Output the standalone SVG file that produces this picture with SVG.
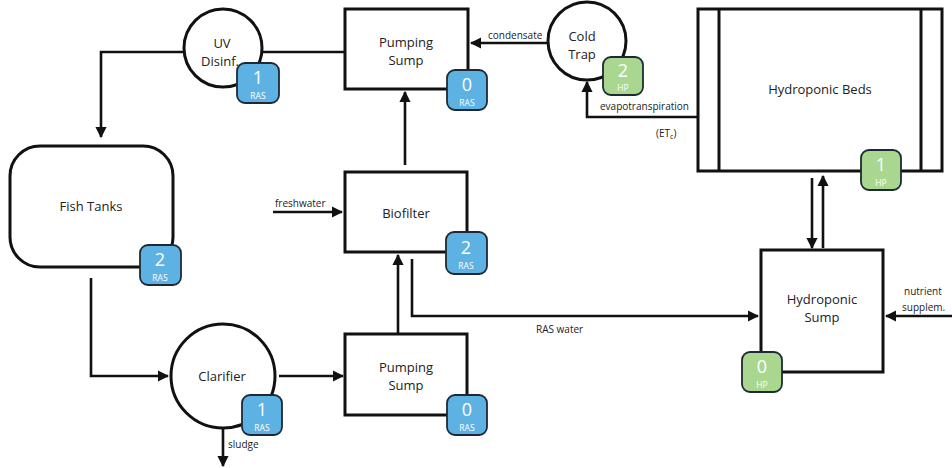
<svg xmlns="http://www.w3.org/2000/svg" width="952" height="468" viewBox="0 0 952 468">
<style>
.box{fill:#fff;stroke:#111;stroke-width:3}
.ln{fill:none;stroke:#111;stroke-width:2.6}
.lbl{font-family:"Open Sans","Noto Sans",sans-serif;font-size:13px;fill:#222;text-anchor:middle}
.sm{font-family:"Open Sans","Noto Sans",sans-serif;font-size:10px;fill:#222}
.ras{fill:#5db2e3;stroke:#1e2a33;stroke-width:1.8}
.hp{fill:#a9d78f;stroke:#1e2a33;stroke-width:1.8}
.bn{font-family:"Open Sans","Noto Sans",sans-serif;font-size:18px;fill:#fff;text-anchor:middle}
.bt{font-family:"Open Sans","Noto Sans",sans-serif;font-size:8.5px;fill:#fff;text-anchor:middle}
</style>
<defs>
<marker id="ah" viewBox="0 0 10 10" refX="9" refY="5" markerWidth="4.4" markerHeight="4.4" orient="auto" markerUnits="strokeWidth">
<path d="M0,0 L10,5 L0,10 z" fill="#111"/>
</marker>
</defs>
<rect width="952" height="468" fill="#fff"/>

<g id="connectors">
<path class="ln" d="M185,52 H101 V137" marker-end="url(#ah)"/>
<path class="ln" d="M262,52 H345"/>
<path class="ln" d="M548,43 H471" marker-end="url(#ah)"/>
<path class="ln" d="M698,117 H587 V82" marker-end="url(#ah)"/>
<path class="ln" d="M405,165 V92" marker-end="url(#ah)"/>
<path class="ln" d="M273,212 H342" marker-end="url(#ah)"/>
<path class="ln" d="M398,333 V255" marker-end="url(#ah)"/>
<path class="ln" d="M412,259 V316 H758" marker-end="url(#ah)"/>
<path class="ln" d="M91,278 V376 H168" marker-end="url(#ah)"/>
<path class="ln" d="M279,376 H343" marker-end="url(#ah)"/>
<path class="ln" d="M223,429 V466" marker-end="url(#ah)"/>
<path class="ln" d="M812,178 V248" marker-end="url(#ah)"/>
<path class="ln" d="M823,248 V176" marker-end="url(#ah)"/>
<path class="ln" d="M952,316 H886" marker-end="url(#ah)"/>
<text class="sm" x="488" y="39">condensate</text>
<text class="sm" x="600" y="110">evapotranspiration</text>
<text class="sm" x="656" y="137">(ET<tspan font-size="7" dy="2">c</tspan><tspan dy="-2">)</tspan></text>
<text class="sm" x="275" y="207">freshwater</text>
<text class="sm" x="536" y="333">RAS water</text>
<text class="sm" x="228" y="448">sludge</text>
<text class="sm" x="904" y="295">nutrient</text>
<text class="sm" x="902" y="311">supplem.</text>
</g>

<g id="uv">
<circle class="box" cx="223" cy="48" r="39"/>
<text class="lbl" x="222" y="48">UV</text>
<text class="lbl" x="220" y="66">Disinf.</text>
<rect class="ras" x="237" y="63" width="42" height="40" rx="8"/>
<text class="bn" x="258" y="84">1</text>
<text class="bt" x="258" y="99">RAS</text>
</g>

<g id="pump-top">
<rect class="box" x="345" y="9" width="123" height="80"/>
<text class="lbl" x="406" y="47">Pumping</text>
<text class="lbl" x="406" y="65">Sump</text>
<rect class="ras" x="447" y="70" width="40" height="40" rx="8"/>
<text class="bn" x="467" y="91">0</text>
<text class="bt" x="467" y="106">RAS</text>
</g>

<g id="coldtrap">
<circle class="box" cx="587" cy="41" r="39"/>
<text class="lbl" x="582" y="41">Cold</text>
<text class="lbl" x="582" y="59">Trap</text>
<rect class="hp" x="603" y="57" width="40" height="38" rx="8"/>
<text class="bn" x="623" y="77">2</text>
<text class="bt" x="623" y="91">HP</text>
</g>

<g id="beds">
<rect class="box" x="698" y="9" width="244" height="162"/>
<line class="box" x1="719" y1="9" x2="719" y2="171"/>
<line class="box" x1="921" y1="9" x2="921" y2="171"/>
<text class="lbl" x="820" y="94">Hydroponic Beds</text>
<rect class="hp" x="861" y="150" width="40" height="40" rx="8"/>
<text class="bn" x="881" y="171">1</text>
<text class="bt" x="881" y="186">HP</text>
</g>

<g id="fishtanks">
<rect class="box" x="10" y="146" width="163" height="121" rx="30"/>
<text class="lbl" x="91" y="211">Fish Tanks</text>
<rect class="ras" x="140" y="245" width="41" height="40" rx="8"/>
<text class="bn" x="160" y="266">2</text>
<text class="bt" x="160" y="281">RAS</text>
</g>

<g id="biofilter">
<rect class="box" x="345" y="172" width="122" height="80"/>
<text class="lbl" x="406" y="218">Biofilter</text>
<rect class="ras" x="446" y="232" width="41" height="42" rx="8"/>
<text class="bn" x="466" y="254">2</text>
<text class="bt" x="466" y="269">RAS</text>
</g>

<g id="pump-bottom">
<rect class="box" x="345" y="334" width="122" height="81"/>
<text class="lbl" x="406" y="372">Pumping</text>
<text class="lbl" x="406" y="390">Sump</text>
<rect class="ras" x="447" y="395" width="40" height="40" rx="8"/>
<text class="bn" x="467" y="416">0</text>
<text class="bt" x="467" y="431">RAS</text>
</g>

<g id="clarifier">
<circle class="box" cx="223" cy="376" r="52"/>
<text class="lbl" x="222" y="381">Clarifier</text>
<rect class="ras" x="242" y="395" width="40" height="40" rx="8"/>
<text class="bn" x="262" y="416">1</text>
<text class="bt" x="262" y="431">RAS</text>
</g>

<g id="hydsump">
<rect class="box" x="761" y="250" width="122" height="122"/>
<text class="lbl" x="822" y="304">Hydroponic</text>
<text class="lbl" x="822" y="322">Sump</text>
<rect class="hp" x="742" y="352" width="40" height="40" rx="8"/>
<text class="bn" x="762" y="373">0</text>
<text class="bt" x="762" y="388">HP</text>
</g>
</svg>
